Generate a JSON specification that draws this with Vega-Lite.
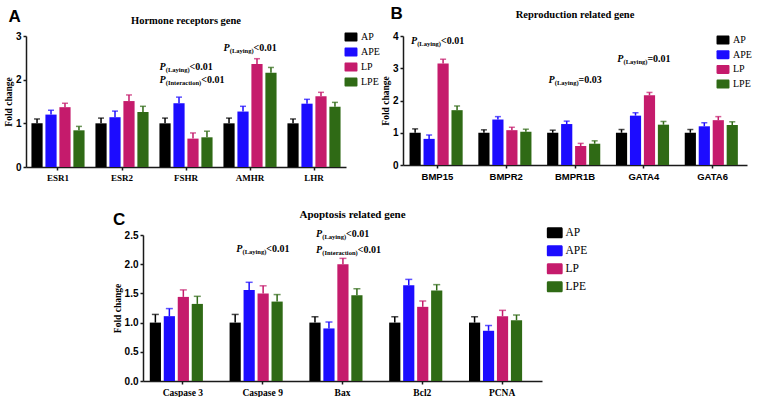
{
  "$schema": "https://vega.github.io/schema/vega-lite/v6.json",
  "background": "white",
  "padding": {"left": 3, "top": 4, "right": 0, "bottom": 0},
  "config": {
    "view": {"stroke": null},
    "axis": {"domainColor": "#1a1a1a", "domainWidth": 1.5, "tickColor": "#1a1a1a", "tickWidth": 1.5, "tickSize": 3, "labelColor": "#000000", "titleColor": "#000000", "grid": false, "labelFont": "Liberation Sans", "labelFontWeight": "bold", "titleFont": "Liberation Serif", "titleFontWeight": "bold", "labelOverlap": false},
    "axisY": {"labelFontSize": 10, "labelPadding": 2, "titleFontSize": 9.5, "titlePadding": 2},
    "axisX": {"labelAngle": 0, "labelPadding": 3},
    "legend": {"title": null, "symbolType": "M-1.2,-1H1.2A0.25,0.25 0 0 1 1.44,-0.75V0.75A0.25,0.25 0 0 1 1.2,1H-1.2A0.25,0.25 0 0 1 -1.44,0.75V-0.75A0.25,0.25 0 0 1 -1.2,-1Z", "symbolStrokeWidth": 0, "labelFont": "Liberation Serif", "labelColor": "#000000", "labelOffset": 5, "padding": 0},
    "title": {"font": "Liberation Sans", "fontSize": 17, "fontWeight": "bold", "anchor": "start", "frame": "bounds", "color": "#000000"}
  },
  "datasets": {
    "A": [
      {"gene": "ESR1", "group": "AP", "value": 1.00, "upper": 1.10},
      {"gene": "ESR1", "group": "APE", "value": 1.20, "upper": 1.30},
      {"gene": "ESR1", "group": "LP", "value": 1.37, "upper": 1.46},
      {"gene": "ESR1", "group": "LPE", "value": 0.84, "upper": 0.93},
      {"gene": "ESR2", "group": "AP", "value": 1.00, "upper": 1.12},
      {"gene": "ESR2", "group": "APE", "value": 1.14, "upper": 1.28},
      {"gene": "ESR2", "group": "LP", "value": 1.51, "upper": 1.65},
      {"gene": "ESR2", "group": "LPE", "value": 1.26, "upper": 1.39},
      {"gene": "FSHR", "group": "AP", "value": 1.00, "upper": 1.12},
      {"gene": "FSHR", "group": "APE", "value": 1.46, "upper": 1.60},
      {"gene": "FSHR", "group": "LP", "value": 0.65, "upper": 0.78},
      {"gene": "FSHR", "group": "LPE", "value": 0.68, "upper": 0.82},
      {"gene": "AMHR", "group": "AP", "value": 1.00, "upper": 1.12},
      {"gene": "AMHR", "group": "APE", "value": 1.27, "upper": 1.39},
      {"gene": "AMHR", "group": "LP", "value": 2.36, "upper": 2.48},
      {"gene": "AMHR", "group": "LPE", "value": 2.16, "upper": 2.28},
      {"gene": "LHR", "group": "AP", "value": 1.00, "upper": 1.10},
      {"gene": "LHR", "group": "APE", "value": 1.45, "upper": 1.55},
      {"gene": "LHR", "group": "LP", "value": 1.62, "upper": 1.71},
      {"gene": "LHR", "group": "LPE", "value": 1.38, "upper": 1.48}
    ],
    "B": [
      {"gene": "BMP15", "group": "AP", "value": 1.00, "upper": 1.12},
      {"gene": "BMP15", "group": "APE", "value": 0.81, "upper": 0.93},
      {"gene": "BMP15", "group": "LP", "value": 3.15, "upper": 3.28},
      {"gene": "BMP15", "group": "LPE", "value": 1.70, "upper": 1.83},
      {"gene": "BMPR2", "group": "AP", "value": 1.00, "upper": 1.09},
      {"gene": "BMPR2", "group": "APE", "value": 1.41, "upper": 1.50},
      {"gene": "BMPR2", "group": "LP", "value": 1.08, "upper": 1.17},
      {"gene": "BMPR2", "group": "LPE", "value": 1.03, "upper": 1.11},
      {"gene": "BMPR1B", "group": "AP", "value": 1.00, "upper": 1.08},
      {"gene": "BMPR1B", "group": "APE", "value": 1.27, "upper": 1.36},
      {"gene": "BMPR1B", "group": "LP", "value": 0.59, "upper": 0.67},
      {"gene": "BMPR1B", "group": "LPE", "value": 0.66, "upper": 0.75},
      {"gene": "GATA4", "group": "AP", "value": 1.00, "upper": 1.10},
      {"gene": "GATA4", "group": "APE", "value": 1.53, "upper": 1.62},
      {"gene": "GATA4", "group": "LP", "value": 2.16, "upper": 2.25},
      {"gene": "GATA4", "group": "LPE", "value": 1.25, "upper": 1.35},
      {"gene": "GATA6", "group": "AP", "value": 1.00, "upper": 1.10},
      {"gene": "GATA6", "group": "APE", "value": 1.20, "upper": 1.31},
      {"gene": "GATA6", "group": "LP", "value": 1.39, "upper": 1.50},
      {"gene": "GATA6", "group": "LPE", "value": 1.24, "upper": 1.34}
    ],
    "C": [
      {"gene": "Caspase 3", "group": "AP", "value": 1.00, "upper": 1.14},
      {"gene": "Caspase 3", "group": "APE", "value": 1.11, "upper": 1.24},
      {"gene": "Caspase 3", "group": "LP", "value": 1.44, "upper": 1.56},
      {"gene": "Caspase 3", "group": "LPE", "value": 1.32, "upper": 1.45},
      {"gene": "Caspase 9", "group": "AP", "value": 1.00, "upper": 1.14},
      {"gene": "Caspase 9", "group": "APE", "value": 1.56, "upper": 1.69},
      {"gene": "Caspase 9", "group": "LP", "value": 1.50, "upper": 1.63},
      {"gene": "Caspase 9", "group": "LPE", "value": 1.36, "upper": 1.48},
      {"gene": "Bax", "group": "AP", "value": 1.00, "upper": 1.10},
      {"gene": "Bax", "group": "APE", "value": 0.90, "upper": 1.01},
      {"gene": "Bax", "group": "LP", "value": 2.00, "upper": 2.10},
      {"gene": "Bax", "group": "LPE", "value": 1.47, "upper": 1.58},
      {"gene": "Bcl2", "group": "AP", "value": 1.00, "upper": 1.10},
      {"gene": "Bcl2", "group": "APE", "value": 1.64, "upper": 1.74},
      {"gene": "Bcl2", "group": "LP", "value": 1.27, "upper": 1.37},
      {"gene": "Bcl2", "group": "LPE", "value": 1.55, "upper": 1.65},
      {"gene": "PCNA", "group": "AP", "value": 1.00, "upper": 1.10},
      {"gene": "PCNA", "group": "APE", "value": 0.86, "upper": 0.95},
      {"gene": "PCNA", "group": "LP", "value": 1.11, "upper": 1.21},
      {"gene": "PCNA", "group": "LPE", "value": 1.04, "upper": 1.13}
    ],
    "annA": [
      {"gene": "FSHR", "y": 2.30, "sub": "(Laying)", "suffix": "<0.01"},
      {"gene": "FSHR", "y": 1.99, "sub": "(Interaction)", "suffix": "<0.01"},
      {"gene": "AMHR", "y": 2.73, "sub": "(Laying)", "suffix": "<0.01"}
    ],
    "annB": [
      {"gene": "BMP15", "y": 3.86, "sub": "(Laying)", "suffix": "<0.01"},
      {"gene": "BMPR1B", "y": 2.64, "sub": "(Laying)", "suffix": "=0.03"},
      {"gene": "GATA4", "y": 3.30, "sub": "(Laying)", "suffix": "=0.01"}
    ],
    "annC": [
      {"gene": "Caspase 9", "y": 2.26, "sub": "(Laying)", "suffix": "<0.01"},
      {"gene": "Bax", "y": 2.51, "sub": "(Laying)", "suffix": "<0.01"},
      {"gene": "Bax", "y": 2.25, "sub": "(Interaction)", "suffix": "<0.01"}
    ]
  },
  "spacing": 27,
  "resolve": {"scale": {"color": "independent"}, "legend": {"color": "independent"}},
  "vconcat": [
    {
      "spacing": 0,
      "resolve": {"scale": {"color": "independent"}, "legend": {"color": "independent"}},
      "hconcat": [
        {
          "title": {"text": "A", "offset": -10, "dx": 5},
          "resolve": {"scale": {"color": "independent"}, "legend": {"color": "independent"}},
          "vconcat": [
            {
              "title": {"text": "Hormone receptors gene", "anchor": "middle", "frame": "group", "font": "Liberation Serif", "fontSize": 10.5, "offset": 5},
              "width": 320, "height": 131,
              "data": {"name": "A"},
              "encoding": {
                "x": {"field": "gene", "type": "nominal", "title": null, "scale": {"domain": ["ESR1", "ESR2", "FSHR", "AMHR", "LHR"], "paddingInner": 0.17, "paddingOuter": 0.085}, "axis": {"labelFont": "Liberation Serif", "labelFontSize": 9}}
              },
              "layer": [
                {"mark": {"type": "bar"},
                 "encoding": {
                   "xOffset": {"field": "group", "type": "nominal", "scale": {"domain": ["AP", "APE", "LP", "LPE"], "paddingInner": 0.2}},
                   "y": {"field": "value", "type": "quantitative", "title": "Fold change", "scale": {"domain": [0, 3], "nice": false}, "axis": {"values": [0, 1, 2, 3]}},
                   "color": {"field": "group", "type": "nominal", "scale": {"domain": ["AP", "APE", "LP", "LPE"], "range": ["#000000", "#1c0cff", "#c51b6c", "#2f6a15"]}, "legend": {"orient": "none", "legendX": 320, "legendY": -4, "labelFontSize": 10, "symbolSize": 81, "rowPadding": 5}}
                 }},
                {"mark": {"type": "rule", "strokeWidth": 1.5},
                 "encoding": {
                   "xOffset": {"field": "group", "type": "nominal", "scale": {"domain": ["AP", "APE", "LP", "LPE"], "paddingInner": 0.2}},
                   "y": {"field": "value", "type": "quantitative", "title": "Fold change", "scale": {"domain": [0, 3], "nice": false}, "axis": {"values": [0, 1, 2, 3]}},
                   "y2": {"field": "upper"},
                   "color": {"field": "group", "type": "nominal", "legend": null}
                 }},
                {"mark": {"type": "tick", "thickness": 1.5, "size": 6},
                 "encoding": {
                   "xOffset": {"field": "group", "type": "nominal", "scale": {"domain": ["AP", "APE", "LP", "LPE"], "paddingInner": 0.2}},
                   "y": {"field": "upper", "type": "quantitative", "title": "Fold change", "scale": {"domain": [0, 3], "nice": false}, "axis": {"values": [0, 1, 2, 3]}},
                   "color": {"field": "group", "type": "nominal", "legend": null}
                 }},
                {"data": {"name": "annA"},
                 "mark": {"type": "text", "text": "P", "font": "Liberation Serif", "fontWeight": "bold", "fontStyle": "italic", "fontSize": 10, "align": "left", "baseline": "middle", "dx": -26.5},
                 "encoding": {
                   "y": {"field": "y", "type": "quantitative", "title": "Fold change", "scale": {"domain": [0, 3], "nice": false}, "axis": {"values": [0, 1, 2, 3]}}
                 }},
                {"data": {"name": "annA"},
                 "mark": {"type": "text", "font": "Liberation Serif", "fontWeight": "bold", "fontSize": 6.5, "align": "left", "baseline": "middle", "dx": -20.2, "dy": 3},
                 "encoding": {
                   "y": {"field": "y", "type": "quantitative", "title": "Fold change", "scale": {"domain": [0, 3], "nice": false}, "axis": {"values": [0, 1, 2, 3]}},
                   "text": {"field": "sub"}
                 }},
                {"data": {"name": "annA"},
                 "transform": [{"filter": "datum.sub === '(Laying)'"}],
                 "mark": {"type": "text", "font": "Liberation Serif", "fontWeight": "bold", "fontSize": 10, "align": "left", "baseline": "middle", "dx": 3.6},
                 "encoding": {
                   "y": {"field": "y", "type": "quantitative", "title": "Fold change", "scale": {"domain": [0, 3], "nice": false}, "axis": {"values": [0, 1, 2, 3]}},
                   "text": {"field": "suffix"}
                 }},
                {"data": {"name": "annA"},
                 "transform": [{"filter": "datum.sub === '(Interaction)'"}],
                 "mark": {"type": "text", "font": "Liberation Serif", "fontWeight": "bold", "fontSize": 10, "align": "left", "baseline": "middle", "dx": 15.2},
                 "encoding": {
                   "y": {"field": "y", "type": "quantitative", "title": "Fold change", "scale": {"domain": [0, 3], "nice": false}, "axis": {"values": [0, 1, 2, 3]}},
                   "text": {"field": "suffix"}
                 }}
              ]
            }
          ]
        },
        {
          "title": {"text": "B", "offset": -13, "dx": 10},
          "resolve": {"scale": {"color": "independent"}, "legend": {"color": "independent"}},
          "vconcat": [
            {
              "title": {"text": "Reproduction related gene", "anchor": "middle", "frame": "group", "font": "Liberation Serif", "fontSize": 10.5, "offset": 11},
              "width": 344, "height": 129,
              "data": {"name": "B"},
              "encoding": {
                "x": {"field": "gene", "type": "nominal", "title": null, "scale": {"domain": ["BMP15", "BMPR2", "BMPR1B", "GATA4", "GATA6"], "paddingInner": 0.19, "paddingOuter": 0.095}, "axis": {"labelFont": "Liberation Sans", "labelFontSize": 9.5}}
              },
              "layer": [
                {"mark": {"type": "bar"},
                 "encoding": {
                   "xOffset": {"field": "group", "type": "nominal", "scale": {"domain": ["AP", "APE", "LP", "LPE"], "paddingInner": 0.2}},
                   "y": {"field": "value", "type": "quantitative", "title": "Fold change", "scale": {"domain": [0, 4], "nice": false}, "axis": {"values": [0, 1, 2, 3, 4]}},
                   "color": {"field": "group", "type": "nominal", "scale": {"domain": ["AP", "APE", "LP", "LPE"], "range": ["#000000", "#1c0cff", "#c51b6c", "#2f6a15"]}, "legend": {"orient": "none", "legendX": 315, "legendY": -1, "labelFontSize": 10, "symbolSize": 81, "rowPadding": 4.7}}
                 }},
                {"mark": {"type": "rule", "strokeWidth": 1.5},
                 "encoding": {
                   "xOffset": {"field": "group", "type": "nominal", "scale": {"domain": ["AP", "APE", "LP", "LPE"], "paddingInner": 0.2}},
                   "y": {"field": "value", "type": "quantitative", "title": "Fold change", "scale": {"domain": [0, 4], "nice": false}, "axis": {"values": [0, 1, 2, 3, 4]}},
                   "y2": {"field": "upper"},
                   "color": {"field": "group", "type": "nominal", "legend": null}
                 }},
                {"mark": {"type": "tick", "thickness": 1.5, "size": 6},
                 "encoding": {
                   "xOffset": {"field": "group", "type": "nominal", "scale": {"domain": ["AP", "APE", "LP", "LPE"], "paddingInner": 0.2}},
                   "y": {"field": "upper", "type": "quantitative", "title": "Fold change", "scale": {"domain": [0, 4], "nice": false}, "axis": {"values": [0, 1, 2, 3, 4]}},
                   "color": {"field": "group", "type": "nominal", "legend": null}
                 }},
                {"data": {"name": "annB"},
                 "mark": {"type": "text", "text": "P", "font": "Liberation Serif", "fontWeight": "bold", "fontStyle": "italic", "fontSize": 10, "align": "left", "baseline": "middle", "dx": -26.5},
                 "encoding": {
                   "y": {"field": "y", "type": "quantitative", "title": "Fold change", "scale": {"domain": [0, 4], "nice": false}, "axis": {"values": [0, 1, 2, 3, 4]}}
                 }},
                {"data": {"name": "annB"},
                 "mark": {"type": "text", "font": "Liberation Serif", "fontWeight": "bold", "fontSize": 6.5, "align": "left", "baseline": "middle", "dx": -20.2, "dy": 3},
                 "encoding": {
                   "y": {"field": "y", "type": "quantitative", "title": "Fold change", "scale": {"domain": [0, 4], "nice": false}, "axis": {"values": [0, 1, 2, 3, 4]}},
                   "text": {"field": "sub"}
                 }},
                {"data": {"name": "annB"},
                 "mark": {"type": "text", "font": "Liberation Serif", "fontWeight": "bold", "fontSize": 10, "align": "left", "baseline": "middle", "dx": 3.6},
                 "encoding": {
                   "y": {"field": "y", "type": "quantitative", "title": "Fold change", "scale": {"domain": [0, 4], "nice": false}, "axis": {"values": [0, 1, 2, 3, 4]}},
                   "text": {"field": "suffix"}
                 }}
              ]
            }
          ]
        }
      ]
    },
    {
      "spacing": 10,
      "resolve": {"scale": {"color": "independent"}, "legend": {"color": "independent"}},
      "hconcat": [
        {"width": 76, "height": 10, "data": {"values": []}, "mark": "point"},
        {
          "title": {"text": "C", "offset": -20, "dx": 1},
          "resolve": {"scale": {"color": "independent"}, "legend": {"color": "independent"}},
          "vconcat": [
            {
              "title": {"text": "Apoptosis related gene", "anchor": "middle", "frame": "group", "font": "Liberation Serif", "fontSize": 11, "offset": 7, "dx": 10},
              "width": 399, "height": 146,
              "data": {"name": "C"},
              "encoding": {
                "x": {"field": "gene", "type": "nominal", "title": null, "scale": {"domain": ["Caspase 3", "Caspase 9", "Bax", "Bcl2", "PCNA"], "paddingInner": 0.17, "paddingOuter": 0.085}, "axis": {"labelFont": "Liberation Serif", "labelFontSize": 9.5}}
              },
              "layer": [
                {"mark": {"type": "bar"},
                 "encoding": {
                   "xOffset": {"field": "group", "type": "nominal", "scale": {"domain": ["AP", "APE", "LP", "LPE"], "paddingInner": 0.2}},
                   "y": {"field": "value", "type": "quantitative", "title": "Fold change", "scale": {"domain": [0, 2.5], "nice": false}, "axis": {"values": [0, 0.5, 1, 1.5, 2, 2.5], "format": ".1f"}},
                   "color": {"field": "group", "type": "nominal", "scale": {"domain": ["AP", "APE", "LP", "LPE"], "range": ["#000000", "#1c0cff", "#c51b6c", "#2f6a15"]}, "legend": {"orient": "none", "legendX": 406, "legendY": -8, "labelFontSize": 11.5, "symbolSize": 121, "rowPadding": 5}}
                 }},
                {"mark": {"type": "rule", "strokeWidth": 1.5},
                 "encoding": {
                   "xOffset": {"field": "group", "type": "nominal", "scale": {"domain": ["AP", "APE", "LP", "LPE"], "paddingInner": 0.2}},
                   "y": {"field": "value", "type": "quantitative", "title": "Fold change", "scale": {"domain": [0, 2.5], "nice": false}, "axis": {"values": [0, 0.5, 1, 1.5, 2, 2.5], "format": ".1f"}},
                   "y2": {"field": "upper"},
                   "color": {"field": "group", "type": "nominal", "legend": null}
                 }},
                {"mark": {"type": "tick", "thickness": 1.5, "size": 7},
                 "encoding": {
                   "xOffset": {"field": "group", "type": "nominal", "scale": {"domain": ["AP", "APE", "LP", "LPE"], "paddingInner": 0.2}},
                   "y": {"field": "upper", "type": "quantitative", "title": "Fold change", "scale": {"domain": [0, 2.5], "nice": false}, "axis": {"values": [0, 0.5, 1, 1.5, 2, 2.5], "format": ".1f"}},
                   "color": {"field": "group", "type": "nominal", "legend": null}
                 }},
                {"data": {"name": "annC"},
                 "mark": {"type": "text", "text": "P", "font": "Liberation Serif", "fontWeight": "bold", "fontStyle": "italic", "fontSize": 10, "align": "left", "baseline": "middle", "dx": -26.5},
                 "encoding": {
                   "y": {"field": "y", "type": "quantitative", "title": "Fold change", "scale": {"domain": [0, 2.5], "nice": false}, "axis": {"values": [0, 0.5, 1, 1.5, 2, 2.5], "format": ".1f"}}
                 }},
                {"data": {"name": "annC"},
                 "mark": {"type": "text", "font": "Liberation Serif", "fontWeight": "bold", "fontSize": 6.5, "align": "left", "baseline": "middle", "dx": -20.2, "dy": 3},
                 "encoding": {
                   "y": {"field": "y", "type": "quantitative", "title": "Fold change", "scale": {"domain": [0, 2.5], "nice": false}, "axis": {"values": [0, 0.5, 1, 1.5, 2, 2.5], "format": ".1f"}},
                   "text": {"field": "sub"}
                 }},
                {"data": {"name": "annC"},
                 "transform": [{"filter": "datum.sub === '(Laying)'"}],
                 "mark": {"type": "text", "font": "Liberation Serif", "fontWeight": "bold", "fontSize": 10, "align": "left", "baseline": "middle", "dx": 3.6},
                 "encoding": {
                   "y": {"field": "y", "type": "quantitative", "title": "Fold change", "scale": {"domain": [0, 2.5], "nice": false}, "axis": {"values": [0, 0.5, 1, 1.5, 2, 2.5], "format": ".1f"}},
                   "text": {"field": "suffix"}
                 }},
                {"data": {"name": "annC"},
                 "transform": [{"filter": "datum.sub === '(Interaction)'"}],
                 "mark": {"type": "text", "font": "Liberation Serif", "fontWeight": "bold", "fontSize": 10, "align": "left", "baseline": "middle", "dx": 15.2},
                 "encoding": {
                   "y": {"field": "y", "type": "quantitative", "title": "Fold change", "scale": {"domain": [0, 2.5], "nice": false}, "axis": {"values": [0, 0.5, 1, 1.5, 2, 2.5], "format": ".1f"}},
                   "text": {"field": "suffix"}
                 }}
              ]
            }
          ]
        }
      ]
    }
  ]
}
